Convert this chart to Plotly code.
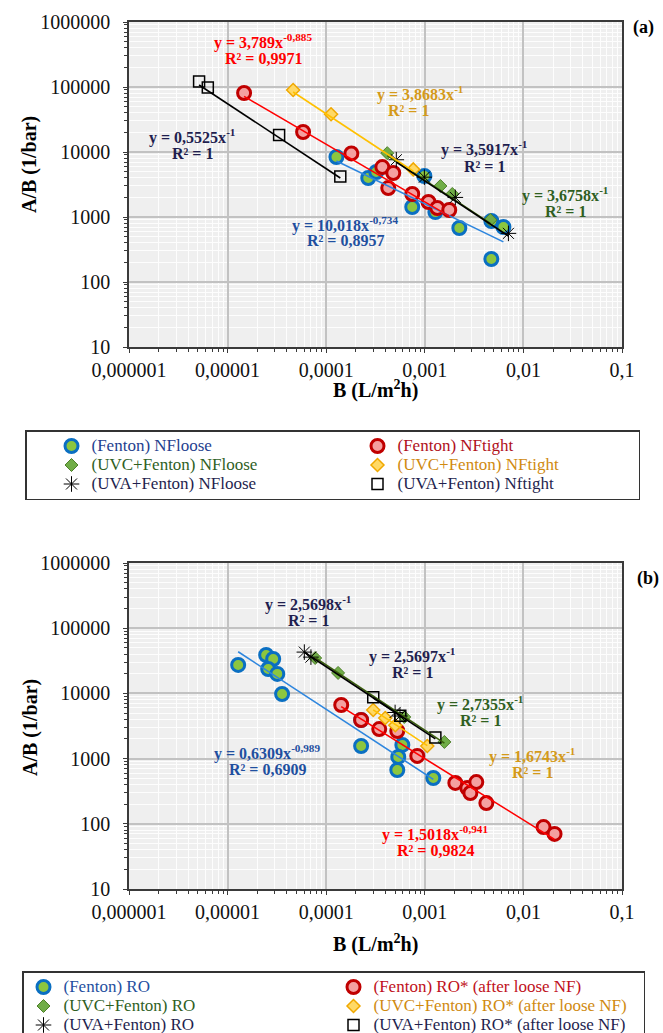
import plotly.graph_objects as go

W, H = 663, 1033

# ---------------- Data: panel (a) ----------------
a_fenton_loose_x = [1.27e-4, 2.67e-4, 3.22e-4, 7.46e-4, 9.9e-4, 1.28e-3, 2.24e-3, 4.73e-3, 6.27e-3, 4.73e-3]
a_fenton_loose_y = [8380, 3980, 4920, 1425, 4270, 1190, 678, 867, 701, 226]
a_fenton_tight_x = [1.47e-5, 5.83e-5, 1.80e-4, 3.71e-4, 4.79e-4, 4.26e-4, 7.46e-4, 1.09e-3, 1.34e-3, 1.77e-3]
a_fenton_tight_y = [80900, 20300, 9500, 5870, 4750, 2790, 2260, 1700, 1375, 1280]
a_uvc_loose_x = [4.16e-4, 1.44e-3, 1.90e-3, 4.62e-3]
a_uvc_loose_y = [9600, 3000, 2260, 900]
a_uvc_tight_x = [4.62e-5, 1.12e-4, 7.64e-4]
a_uvc_tight_y = [90000, 38000, 5400]
a_uva_loose_x = [5.14e-4, 9.9e-4, 2.04e-3, 7.05e-3]
a_uva_loose_y = [7600, 4100, 2000, 560]
a_uva_tight_x = [5.14e-6, 6.3e-6, 3.33e-5, 1.39e-4]
a_uva_tight_y = [122000, 98000, 18200, 4200]

# ---------------- Data: panel (b) ----------------
b_fenton_ro_x = [1.28e-5, 2.46e-5, 2.90e-5, 2.58e-5, 3.19e-5, 3.57e-5, 2.26e-4, 2.26e-4, 5.92e-4, 5.38e-4, 5.26e-4, 1.22e-3]
b_fenton_ro_y = [27300, 38800, 33700, 23700, 19900, 9800, 3910, 1560, 1620, 1060, 669, 504]
b_fenton_ros_x = [1.42e-4, 2.26e-4, 3.45e-4, 5.26e-4, 8.39e-4, 2.04e-3, 2.70e-3, 2.90e-3, 3.33e-3, 4.21e-3, 1.60e-2, 2.07e-2]
b_fenton_ros_y = [6640, 3910, 2840, 2650, 1100, 423, 354, 297, 437, 208, 89, 70]
b_uvc_ro_x = [7.73e-5, 1.32e-4, 6.19e-4, 1.58e-3]
b_uvc_ro_y = [34900, 20600, 4350, 1800]
b_uvc_ros_x = [3.0e-4, 3.97e-4, 5.02e-4, 1.06e-3]
b_uvc_ros_y = [5560, 4200, 3250, 1560]
b_uva_ro_x = [6.0e-5, 7.0e-5, 5.0e-4, 5.6e-4]
b_uva_ro_y = [43000, 36000, 5100, 4500]
b_uva_ros_x = [3.0e-4, 5.64e-4, 1.28e-3]
b_uva_ros_y = [8700, 4560, 2100]

# Trendline equations shown on the chart: y = k * x^p
a_fits = {"fenton_loose": (10.018, -0.734), "fenton_tight": (3.789, -0.885),
          "uvc_loose": (3.6758, -1), "uvc_tight": (3.8683, -1),
          "uva_loose": (3.5917, -1), "uva_tight": (0.5525, -1)}
b_fits = {"fenton_ro": (0.6309, -0.989), "fenton_ros": (1.5018, -0.941),
          "uvc_ro": (2.7355, -1), "uvc_ros": (1.6743, -1),
          "uva_ro": (2.5698, -1), "uva_ros": (2.5697, -1)}

x_tickvals = [1e-6, 1e-5, 1e-4, 1e-3, 1e-2, 1e-1]
x_ticktext = ["0,000001", "0,00001", "0,0001", "0,001", "0,01", "0,1"]
y_tickvals = [10, 100, 1000, 10000, 100000, 1000000]
y_ticktext = ["10", "100", "1000", "10000", "100000", "1000000"]

a_names = ["(Fenton) NFloose", "(Fenton) NFtight", "(UVC+Fenton) NFloose",
           "(UVC+Fenton) NFtight", "(UVA+Fenton) NFloose", "(UVA+Fenton) Nftight"]
b_names = ["(Fenton) RO", "(Fenton) RO* (after loose NF)", "(UVC+Fenton) RO",
           "(UVC+Fenton) RO* (after loose NF)", "(UVA+Fenton) RO", "(UVA+Fenton) RO* (after loose NF)"]

# ---------------- styles ----------------
SERIF = "Liberation Serif, Times New Roman, serif"
NAVY = "#1f1f4f"
legend_colors = ["#1f3f8f", "#b0101a", "#2f5f1f", "#d08a10", NAVY, NAVY]
legend_colors_b = ["#1f4fa0", "#c01020", "#2f5f1f", "#d08a10", NAVY, NAVY]

m_blue = dict(symbol="circle", size=13, color="#8cc63f", line=dict(color="#0a6fc2", width=3))
m_red = dict(symbol="circle", size=13, color="#f4a0a0", line=dict(color="#c00000", width=3))
m_green = dict(symbol="diamond", size=10, color="#70ad47", line=dict(color="#4e7f2a", width=1))
m_yellow = dict(symbol="diamond", size=10, color="#ffd966", line=dict(color="#f0a800", width=1.5))
m_star = dict(symbol="asterisk-open", size=13, color="black", line=dict(color="black", width=1))
m_square = dict(symbol="square-open", size=11, color="black", line=dict(color="black", width=1.5))
markers = [m_blue, m_red, m_green, m_yellow, m_star, m_square]
line_cols = ["#2e86de", "#ff0000", "#3a5f0b", "#ffc000", "black", "black"]

fig = go.Figure()

a_series = [(a_fenton_loose_x, a_fenton_loose_y, "fenton_loose"),
            (a_fenton_tight_x, a_fenton_tight_y, "fenton_tight"),
            (a_uvc_loose_x, a_uvc_loose_y, "uvc_loose"),
            (a_uvc_tight_x, a_uvc_tight_y, "uvc_tight"),
            (a_uva_loose_x, a_uva_loose_y, "uva_loose"),
            (a_uva_tight_x, a_uva_tight_y, "uva_tight")]
b_series = [(b_fenton_ro_x, b_fenton_ro_y, "fenton_ro"),
            (b_fenton_ros_x, b_fenton_ros_y, "fenton_ros"),
            (b_uvc_ro_x, b_uvc_ro_y, "uvc_ro"),
            (b_uvc_ros_x, b_uvc_ros_y, "uvc_ros"),
            (b_uva_ro_x, b_uva_ro_y, "uva_ro"),
            (b_uva_ros_x, b_uva_ros_y, "uva_ros")]

LEG_TXT = 17


def add_panel(series, fits, names, colors, xa, ya, legend):
    for i, (xs, ys, key) in enumerate(series):
        fig.add_trace(go.Scatter(
            x=xs, y=ys, mode="markers", marker=markers[i], xaxis=xa, yaxis=ya,
            name=f"<span style='color:{colors[i]};font-size:{LEG_TXT}px'>{names[i]}</span>",
            legend=legend, showlegend=True, hoverinfo="skip"))
    for i, (xs, ys, key) in enumerate(series):
        k, p = fits[key]
        x0, x1 = min(xs), max(xs)
        lx = [x0, x1]
        ly = [k * v ** p for v in lx]
        fig.add_trace(go.Scatter(
            x=lx, y=ly, mode="lines", line=dict(color=line_cols[i], width=1.6),
            xaxis=xa, yaxis=ya, showlegend=False, hoverinfo="skip"))


add_panel(a_series, a_fits, a_names, legend_colors, "x", "y", "legend")
add_panel(b_series, b_fits, b_names, legend_colors_b, "x2", "y2", "legend2")


def px(x):
    return x / W


def py(y):
    return 1 - y / H


xdom = [px(129), px(622)]
ydom_a = [py(347), py(22)]
ydom_b = [py(889), py(563)]

minor_x = [m * 10 ** e for e in range(-6, -1) for m in range(2, 10)]
minor_y = [m * 10 ** e for e in range(1, 6) for m in range(2, 10)]

AXC = "#3a3a3a"


def xaxis_cfg(anchor):
    return dict(type="log", range=[-6, -1], domain=xdom, anchor=anchor, automargin=False,
                tickmode="array", tickvals=x_tickvals, ticktext=x_ticktext,
                ticks="outside", ticklen=4, tickcolor=AXC,
                showline=True, linecolor=AXC, linewidth=1.5, mirror=True,
                showgrid=True, gridcolor="#c2c2c2", gridwidth=1.5,
                tickfont=dict(family=SERIF, size=20, color="#111111"),
                minor=dict(tickmode="array", tickvals=minor_x, ticks="outside", ticklen=3,
                           tickcolor=AXC, showgrid=True, gridcolor="#fdfdfd", gridwidth=1.2),
                zeroline=False)


def yaxis_cfg(anchor, dom):
    return dict(type="log", range=[1, 6], domain=dom, anchor=anchor, automargin=False,
                tickmode="array", tickvals=y_tickvals, ticktext=y_ticktext,
                ticks="outside", ticklen=4, tickcolor=AXC, ticklabelstandoff=9,
                showline=True, linecolor=AXC, linewidth=1.5, mirror=True,
                showgrid=True, gridcolor="#c2c2c2", gridwidth=1.5,
                tickfont=dict(family=SERIF, size=20, color="#111111"),
                minor=dict(tickmode="array", tickvals=minor_y, ticks="outside", ticklen=3,
                           tickcolor=AXC, showgrid=True, gridcolor="#fdfdfd", gridwidth=1.2),
                zeroline=False)


annotations = []


def ann(x, y, text, color, size=16, bold=True, angle=0, xanchor="center"):
    t = f"<b>{text}</b>" if bold else text
    annotations.append(dict(x=px(x), y=py(y), xref="paper", yref="paper", text=t,
                            showarrow=False, xanchor=xanchor, yanchor="middle", textangle=angle,
                            font=dict(family=SERIF, size=size, color=color)))


RED = "#ff0000"
ORANGE = "#d49a1a"
GREEN = "#2f5f1f"
BLUE = "#1f4f9f"

# panel (a) equations
ann(263, 41, "y = 3,789x<sup>-0,885</sup>", RED)
ann(263, 58, "R² = 0,9971", RED)
ann(420, 93, "y = 3,8683x<sup>-1</sup>", ORANGE)
ann(408, 110, "R² = 1", ORANGE)
ann(192, 136, "y = 0,5525x<sup>-1</sup>", NAVY)
ann(192, 153, "R² = 1", NAVY)
ann(485, 149, "y = 3,5917x<sup>-1</sup>", NAVY)
ann(485, 166, "R² = 1", NAVY)
ann(565, 194, "y = 3,6758x<sup>-1</sup>", GREEN)
ann(565, 211, "R² = 1", GREEN)
ann(345, 225, "y = 10,018x<sup>-0,734</sup>", BLUE)
ann(345, 241, "R² = 0,8957", BLUE)
ann(643, 27, "(a)", "black", size=18)

# panel (b) equations
ann(308, 603, "y = 2,5698x<sup>-1</sup>", NAVY)
ann(308, 620, "R² = 1", NAVY)
ann(412, 655, "y = 2,5697x<sup>-1</sup>", NAVY)
ann(412, 672, "R² = 1", NAVY)
ann(480, 703, "y = 2,7355x<sup>-1</sup>", GREEN)
ann(480, 720, "R² = 1", GREEN)
ann(532, 755, "y = 1,6743x<sup>-1</sup>", ORANGE)
ann(532, 772, "R² = 1", ORANGE)
ann(267, 752, "y = 0,6309x<sup>-0,989</sup>", BLUE)
ann(267, 769, "R² = 0,6909", BLUE)
ann(435, 833, "y = 1,5018x<sup>-0,941</sup>", RED)
ann(435, 850, "R² = 0,9824", RED)
ann(648, 578, "(b)", "black", size=18)

# axis titles
ann(30, 165, "A/B (1/bar)", "black", size=20, angle=-90)
ann(30, 728, "A/B (1/bar)", "black", size=20, angle=-90)
ann(375, 390, "B (L/m<sup>2</sup>h)", "black", size=20)
ann(375, 943, "B (L/m<sup>2</sup>h)", "black", size=20)

legend_common = dict(orientation="h", xanchor="left", yanchor="top",
                     bgcolor="white", bordercolor="#333333", borderwidth=1.5,
                     font=dict(family=SERIF, size=12, color=NAVY),
                     entrywidthmode="pixels", tracegroupgap=0, itemsizing="trace")

fig.update_layout(
    width=W, height=H, margin=dict(l=0, r=0, t=0, b=0, autoexpand=False),
    paper_bgcolor="white", plot_bgcolor="#efefef",
    xaxis=xaxis_cfg("y"), yaxis=yaxis_cfg("x", ydom_a),
    xaxis2=xaxis_cfg("y2"), yaxis2=yaxis_cfg("x2", ydom_b),
    legend=dict(x=px(25), y=py(430), entrywidth=236, indentation=25, **legend_common),
    legend2=dict(x=px(22), y=py(971), entrywidth=265, itemwidth=30, **legend_common),
    annotations=annotations,
    showlegend=True,
)

fig.write_html("out.html")
